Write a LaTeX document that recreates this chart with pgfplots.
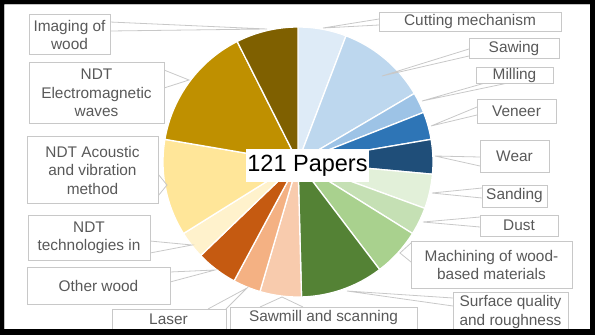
\documentclass[border=0pt]{standalone}
\usepackage{pgfplots}
\pgfplotsset{compat=1.18}
\usepackage{pgfplotstable}
\usepackage{fontspec}
\setmainfont{Liberation Sans}
\definecolor{c1}{HTML}{DEEBF7}
\definecolor{c2}{HTML}{BDD7EE}
\definecolor{c3}{HTML}{9DC3E6}
\definecolor{c4}{HTML}{2E75B6}
\definecolor{c5}{HTML}{1F4E79}
\definecolor{c6}{HTML}{E2F0D9}
\definecolor{c7}{HTML}{C5E0B4}
\definecolor{c8}{HTML}{A9D18E}
\definecolor{c9}{HTML}{548235}
\definecolor{c10}{HTML}{F8CBAD}
\definecolor{c11}{HTML}{F4B183}
\definecolor{c12}{HTML}{C55A11}
\definecolor{c13}{HTML}{FFF2CC}
\definecolor{c14}{HTML}{FFE699}
\definecolor{c15}{HTML}{BF9000}
\definecolor{c16}{HTML}{7F6000}
\definecolor{lbl}{HTML}{595959}
\definecolor{ln}{HTML}{C8C8C8}
% topic, number of papers, colour
\pgfplotstableread[col sep=comma]{
n,col
7,c1
13,c2
3,c3
4,c4
5,c5
5,c6
4,c7
7,c8
12,c9
6,c10
4,c11
6,c12
4,c13
14,c14
18,c15
9,c16
}\pietable
\begin{document}
\begin{tikzpicture}
\begin{axis}[hide axis, scale only axis, x=1pt, y=1pt, y dir=reverse,
  xmin=0, xmax=595, ymin=0, ymax=335, clip=false]
% frame
\fill[black, even odd rule] (0,0) rectangle (595,335) (4,4) rectangle (590,329);
% slices
\pgfplotstablegetrowsof{\pietable}
\pgfmathtruncatemacro\N{\pgfplotsretval-1}
\def\cum{0}
\pgfplotsforeachungrouped \i in {0,...,\N}{%
  \pgfplotstablegetelem{\i}{n}\of\pietable \let\val\pgfplotsretval
  \pgfplotstablegetelem{\i}{col}\of\pietable \let\col\pgfplotsretval
  \pgfmathsetmacro\a{\cum/121*360}%
  \pgfmathsetmacro\b{(\cum+\val)/121*360}%
  \edef\cmd{\noexpand\addplot[fill=\col, draw=white, line width=1.3pt, line join=round, domain=\a:\b, samples=40, variable=\noexpand\t] ({298+135*sin(\noexpand\t)},{162-135*cos(\noexpand\t)}) -- (axis cs:298,162) -- cycle;}%
  \cmd
  \pgfmathsetmacro\cum{\cum+\val}%
}
\end{axis}
\begin{axis}[hide axis, scale only axis, x=1pt, y=1pt, y dir=reverse,
  xmin=0, xmax=595, ymin=0, ymax=335, clip=false]
\tikzset{bx/.style={draw=ln, fill=white, line width=0.8pt},
  pl/.style={draw=ln, line width=0.8pt},
  tx/.style={text=lbl, align=center, inner sep=0pt, font=\fontsize{15.4}{18.5}\selectfont}}
% left callouts
\draw[pl] (110,22) -- (267,29) -- (110,31);
\draw[bx] (29,14) rectangle (110,54);
\node[tx] at (69.5,35) {Imaging of\\wood};
\draw[pl] (164,70) -- (189,80) -- (164,88);
\draw[bx] (29,62) rectangle (164,123);
\node[tx] at (96.5,93) {NDT\\Electromagnetic\\waves};
\draw[pl] (158,174) -- (167,185) -- (158,196);
\draw[bx] (27,136) rectangle (158,203);
\node[tx] at (92.5,170) {NDT Acoustic\\and vibration\\method};
\draw[pl] (150,241) -- (192,245) -- (150,253);
\draw[bx] (28,215) rectangle (150,260);
\node[tx] at (89,238) {NDT\\technologies in};
\draw[pl] (170,272) -- (215,270) -- (170,282);
\draw[bx] (27,267) rectangle (170,304);
\node[tx] at (98.5,285.5) {Other wood};
\draw[pl] (208,309) -- (247,288) -- (226,309);
\draw[bx] (112,309) rectangle (226,334);
\node[tx] at (168.5,319) {Laser};
\draw[pl] (260,307) -- (282,297) -- (303,307);
\draw[bx] (230,307) rectangle (417,334);
\node[tx] at (323.5,318) {Sawmill and scanning};
% right callouts
\draw[pl] (379,19) -- (323,28) -- (379,25);
\draw[bx] (379,12) rectangle (561,31);
\node[tx] at (470,22) {Cutting mechanism};
\draw[pl] (469,49) -- (382,76) -- (469,56);
\draw[bx] (469,38) rectangle (559,58);
\node[tx] at (514,48.5) {Sawing};
\draw[pl] (485,83) -- (422,101) -- (508,83);
\draw[bx] (476,67) rectangle (553,83);
\node[tx] at (514.5,75.5) {Milling};
\draw[pl] (477,107) -- (431,126) -- (477,115);
\draw[bx] (477,99) rectangle (556,123);
\node[tx] at (516.5,111) {Veneer};
\draw[pl] (480,157) -- (435,156) -- (480,166);
\draw[bx] (480,140) rectangle (549,172);
\node[tx] at (514.5,156) {Wear};
\draw[pl] (482,188) -- (432,193) -- (482,198);
\draw[bx] (482,185) rectangle (547,207);
\node[tx] at (514.5,196) {Sanding};
\draw[pl] (480,217) -- (423,222) -- (480,227);
\draw[bx] (480,215) rectangle (558,236);
\node[tx] at (519,225.5) {Dust};
\draw[pl] (411,243) -- (400,253) -- (411,262);
\draw[bx] (411,241) rectangle (572,288);
\node[tx] at (491.5,265) {Machining of wood-\\based materials};
\draw[pl] (453,298) -- (347,291) -- (453,306);
\draw[bx] (453,292) rectangle (568,334);
\node[tx] at (510.5,312) {Surface quality\\and roughness};
% centre label
\fill[white] (246,149) rectangle (369,182);
\node[text=black, inner sep=0pt, font=\fontsize{23.5}{26}\selectfont] at (307.5,165.5) {121 Papers};
% frame again on top
\fill[black, even odd rule] (0,0) rectangle (595,335) (4,4) rectangle (590,329);
\end{axis}
\end{tikzpicture}
\end{document}
